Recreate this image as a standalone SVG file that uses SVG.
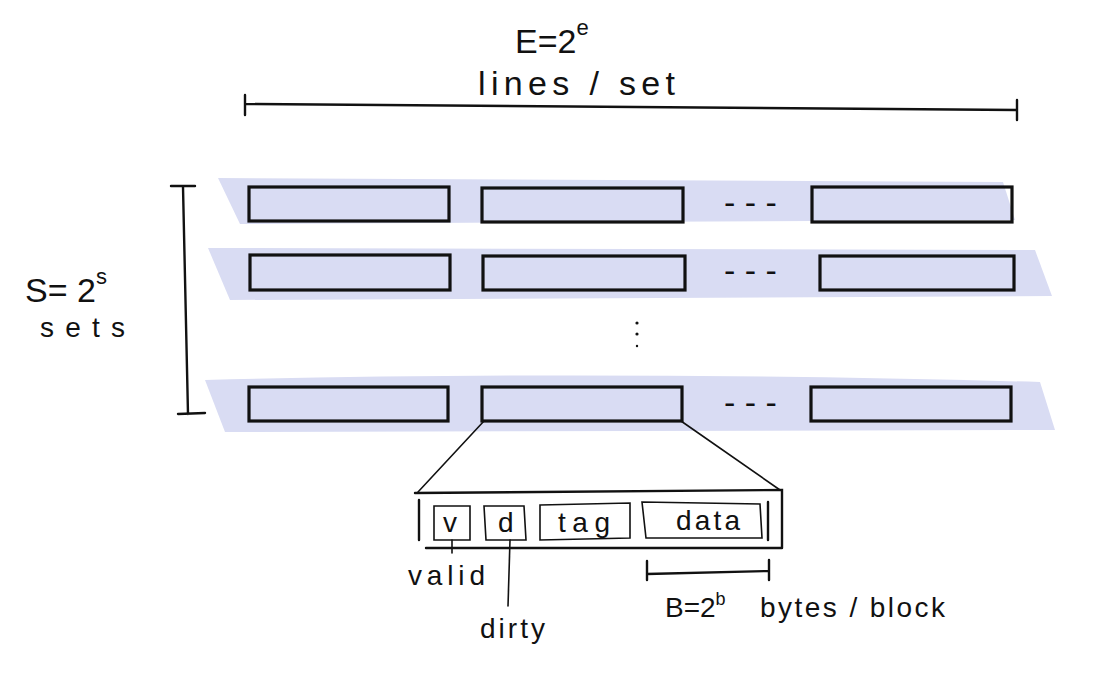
<svg xmlns="http://www.w3.org/2000/svg" width="1093" height="674" viewBox="0 0 1093 674">
<style>
.band{fill:#d9dcf3;}
.box{fill:none;stroke:#111;stroke-width:3.2;}
.ln{fill:none;stroke:#111;stroke-width:2.4;stroke-linecap:round;}
.thin{fill:none;stroke:#111;stroke-width:1.6;stroke-linecap:round;}
.t{font-family:"Liberation Sans",Arial,sans-serif;fill:#111;font-size:34px;}
.ts{font-family:"Liberation Sans",Arial,sans-serif;fill:#111;font-size:28px;}
</style>
<rect width="1093" height="674" fill="#fff"/>
<g id="labels-top">
<text class="t" x="515" y="53">E=2<tspan font-size="22" dy="-18">e</tspan></text>
<text class="t" x="478" y="95" textLength="197" lengthAdjust="spacing">lines / set</text>
</g>
<g id="bracket-E">
<path class="ln" d="M245,104 L1017,110 M245,95 L245,115 M1017,100 L1017,120"/>
</g>
<g id="bracket-S">
<path class="ln" d="M183,187 L188,414 M171,186 L195,186 M178,414 L205,413"/>
<text class="t" x="25" y="302">S= 2<tspan font-size="22" dy="-18">s</tspan></text>
<text class="ts" x="40" y="337" textLength="85" lengthAdjust="spacing">sets</text>
</g>
<g id="set1">
<path class="band" d="M218,178 L1003,182 L1015,220 L240,224 Z"/>
<rect class="box" x="249" y="187" width="200" height="34"/>
<rect class="box" x="482" y="188" width="201" height="34"/>
<text class="t" x="724" y="214">- - -</text>
<rect class="box" x="812" y="187" width="200" height="35"/>
</g>
<g id="set2">
<path class="band" d="M208,248 L1035,250 L1052,296 L230,300 Z"/>
<rect class="box" x="250" y="255" width="200" height="35"/>
<rect class="box" x="483" y="256" width="202" height="34"/>
<text class="t" x="724" y="282">- - -</text>
<rect class="box" x="820" y="256" width="194" height="34"/>
</g>
<g id="vdots">
<circle cx="637" cy="323" r="1.6" fill="#111"/>
<circle cx="637" cy="334" r="1.6" fill="#111"/>
<circle cx="637" cy="346" r="1.2" fill="#111"/>
</g>
<g id="setS">
<path class="band" d="M205,380 Q600,370 1040,382 L1055,430 L225,432 Z"/>
<rect class="box" x="249" y="387" width="199" height="34"/>
<rect class="box" x="482" y="387" width="200" height="34"/>
<text class="t" x="724" y="414">- - -</text>
<rect class="box" x="811" y="387" width="200" height="34"/>
</g>
<g id="connectors">
<path class="thin" d="M484,421 L418,492 M681,421 L780,490"/>
</g>
<g id="line-detail">
<path class="ln" d="M415,493 L782,490 L782,548 M426,548 L782,548"/>
<path class="ln" d="M419,500 L419,540 M768,502 L768,540"/>
<path class="thin" d="M434,506 L470,506 L470,540 L434,540 Z"/>
<text class="ts" x="443" y="532">v</text>
<path class="thin" d="M484,506 L524,506 L526,540 L486,540 Z"/>
<text class="ts" x="498" y="532">d</text>
<path class="thin" d="M540,505 L630,503 L630,538 L540,540 Z"/>
<text class="ts" x="558" y="532" textLength="52" lengthAdjust="spacing">tag</text>
<path class="thin" d="M642,502 L760,504 L762,538 L646,538 Z"/>
<text class="ts" x="676" y="530" textLength="64" lengthAdjust="spacing">data</text>
</g>
<g id="annotations">
<path class="thin" d="M452,540 L452,553"/>
<text class="ts" x="408" y="585" textLength="77" lengthAdjust="spacing">valid</text>
<path class="thin" d="M510,540 L508,606"/>
<text class="ts" x="480" y="638" textLength="65" lengthAdjust="spacing">dirty</text>
<path class="ln" d="M647,574 L768,571 M647,561 L647,580 M769,560 L769,580"/>
<text class="ts" x="665" y="617">B=2<tspan font-size="18" dy="-12">b</tspan></text>
<text class="ts" x="760" y="617" textLength="185" lengthAdjust="spacing">bytes / block</text>
</g>
</svg>
